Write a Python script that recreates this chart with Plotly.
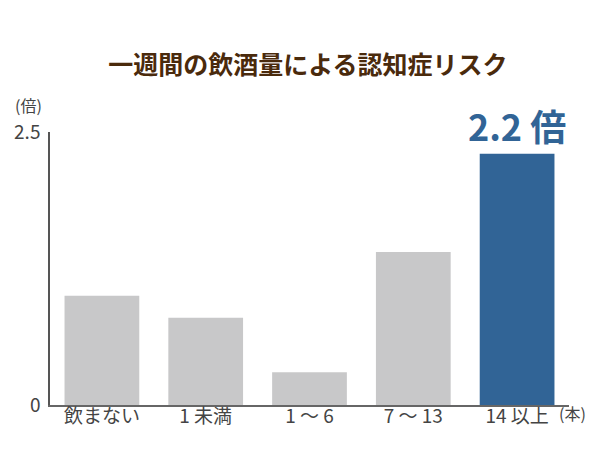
import plotly.graph_objects as go

categories = ["飲まない", "1 未満", "1 ～ 6", "7 ～ 13", "14 以上"]
risk = [1.0, 0.8, 0.3, 1.4, 2.3]
bar_labels = ["", "", "", "", "2.2 倍"]
y_ticks = [0, 2.5]
y_tick_labels = ["0", "2.5"]

GRAY = "#c8c8c9"
BLUE = "#316496"
FONT = "Noto Sans CJK JP"

bar_colors = [GRAY, GRAY, GRAY, GRAY, BLUE]

# page body adds an 8px offset, so the figure is 8px smaller than the window
W, H = 592, 442

fig = go.Figure()

fig.add_trace(go.Bar(
    x=categories,
    y=risk,
    marker=dict(color=bar_colors, line=dict(width=0)),
    text=bar_labels,
    textposition="outside",
    textfont=dict(family=FONT, size=36, color=BLUE, weight="bold"),
    constraintext="none",
    cliponaxis=False,
    hoverinfo="x+y",
))

fig.update_layout(
    width=W,
    height=H,
    margin=dict(l=42, r=31, t=124, b=45, autoexpand=False),
    plot_bgcolor="white",
    paper_bgcolor="white",
    showlegend=False,
    bargap=0.28,
    font=dict(family=FONT, color="#444444"),
    title=dict(
        text="一週間の飲酒量による認知症リスク",
        font=dict(family=FONT, size=25, color="#4a2a0c", weight="bold"),
        x=300 / W, xanchor="center",
        y=1 - 57 / H, yanchor="middle", yref="container",
    ),
    xaxis=dict(
        showgrid=False, zeroline=False,
        showline=True, linecolor="#666666", linewidth=1.5,
        ticks="", ticklabelstandoff=-7,
        tickfont=dict(size=19, color="#444444"),
        range=[-0.5, 4.5],
    ),
    yaxis=dict(
        showgrid=False, zeroline=False,
        showline=True, linecolor="#555555", linewidth=1.5,
        range=[0, 2.5],
        tickvals=y_ticks, ticktext=y_tick_labels,
        ticks="", ticklabelstandoff=4,
        tickfont=dict(size=19, color="#444444"),
    ),
    annotations=[
        dict(text="(倍)", xref="paper", yref="paper", x=0, y=1,
             xanchor="right", yanchor="middle", xshift=-6, yshift=27,
             showarrow=False, font=dict(size=16, color="#444444")),
        dict(text="(本)", xref="paper", yref="paper", x=1, y=0,
             xanchor="left", yanchor="middle", xshift=-12, yshift=-8,
             showarrow=False, font=dict(size=16, color="#444444")),
    ],
)

fig.write_html("out.html")
